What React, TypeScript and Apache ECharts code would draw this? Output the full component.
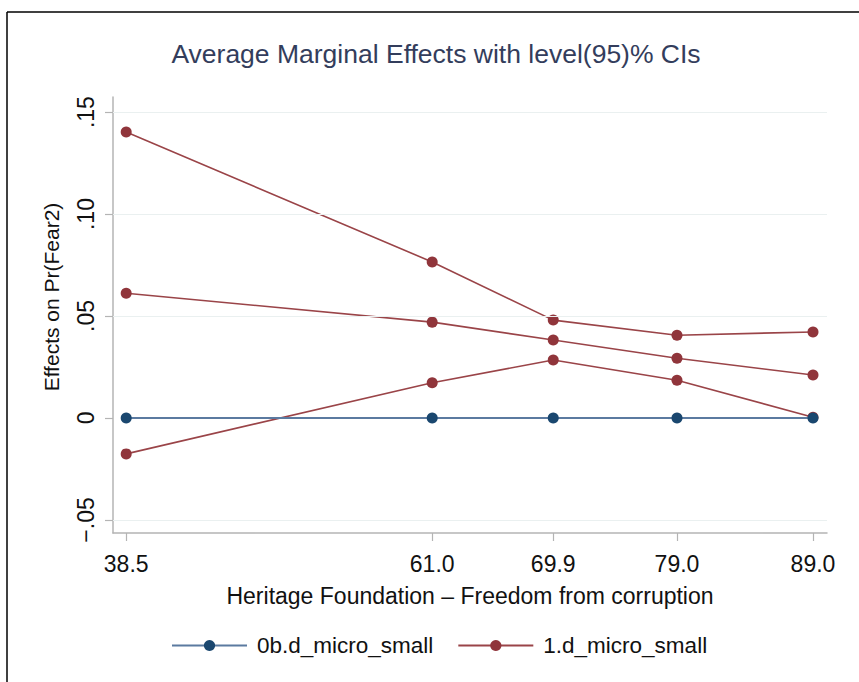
import React, { useEffect, useRef } from "react";
import * as echarts from "echarts";

const xValues = [38.5, 61.0, 69.9, 79.0, 89.0];
const baseSeries = [0, 0, 0, 0, 0];
const upperCI = [0.1402, 0.0765, 0.048, 0.0406, 0.0422];
const estimate = [0.0612, 0.047, 0.0382, 0.0293, 0.0211];
const lowerCI = [-0.0176, 0.0173, 0.0284, 0.0185, 0.0004];
const yTicks = [-0.05, 0, 0.05, 0.1, 0.15];
const yTickLabels = ["\u2212.05", "0", ".05", ".10", ".15"];
const seriesNames = ["0b.d_micro_small", "1.d_micro_small"];
const titleText = "Average Marginal Effects with level(95)% CIs";
const xTitle = "Heritage Foundation \u2013 Freedom from corruption";
const yTitle = "Effects on Pr(Fear2)";

const FONT = "'Liberation Sans', Arial, sans-serif";
const BLUE = "#1a476f";
const BLUE_LINE = "#5b7aa0";
const RED = "#90353b";
const RED_LINE = "#9a4448";
const AXIS = "#b4b4b4";

const pair = (vals: number[]) => xValues.map((x, i) => [x, vals[i]]);

export default function App() {
  const ref = useRef<HTMLDivElement>(null);
  useEffect(() => {
    if (!ref.current) return;
    const chart = echarts.init(ref.current, undefined, { renderer: "svg" });
    const redSeries = (data: number[]) => ({
      type: "line",
      name: seriesNames[1],
      data: pair(data),
      symbol: "circle",
      symbolSize: 11,
      z: 3,
      itemStyle: { color: RED },
      lineStyle: { color: RED_LINE, width: 1.6 },
    });
    chart.setOption({
      animation: false,
      backgroundColor: "#ffffff",
      textStyle: { fontFamily: FONT },
      grid: { left: 113, right: 32, top: 97, bottom: 149, containLabel: false },
      graphic: [
        {
          type: "line",
          shape: { x1: 7, y1: 12, x2: 859, y2: 12 },
          style: { stroke: "#000", lineWidth: 1.5 },
        },
        {
          type: "line",
          shape: { x1: 7, y1: 12, x2: 7, y2: 682 },
          style: { stroke: "#000", lineWidth: 1.5 },
        },
        {
          type: "text",
          x: 436,
          y: 54,
          style: {
            text: titleText,
            align: "center",
            verticalAlign: "middle",
            fontSize: 26.5,
            fontFamily: FONT,
            fill: "#333d5c",
          },
        },
        {
          type: "text",
          x: 51,
          y: 297,
          rotation: Math.PI / 2,
          style: {
            text: yTitle,
            align: "center",
            verticalAlign: "middle",
            fontSize: 21,
            fontFamily: FONT,
            fill: "#111",
          },
        },
      ],
      legend: {
        data: seriesNames,
        left: 166,
        top: 629,
        itemWidth: 75,
        itemHeight: 14,
        itemGap: 24,
        textStyle: { fontSize: 22.5, color: "#111", fontFamily: FONT, padding: [0, 0, 0, 5] },
      },
      xAxis: {
        type: "value",
        min: 37.53,
        max: 90.03,
        name: xTitle,
        nameLocation: "middle",
        nameGap: 51,
        nameTextStyle: { fontSize: 23, color: "#111", fontFamily: FONT },
        axisLine: { show: true, onZero: false, lineStyle: { color: AXIS, width: 1.5 } },
        axisTick: { show: true, customValues: xValues, length: 8, lineStyle: { color: AXIS, width: 1.2 } },
        axisLabel: {
          customValues: xValues,
          formatter: (v: number) => v.toFixed(1),
          fontSize: 23,
          color: "#111",
          margin: 19,
          fontFamily: FONT,
        },
        splitLine: { show: false },
      },
      yAxis: {
        type: "value",
        min: -0.0564,
        max: 0.1574,
        axisLine: { show: true, onZero: false, lineStyle: { color: AXIS, width: 1.5 } },
        axisTick: { show: true, customValues: yTicks, length: 8, lineStyle: { color: AXIS, width: 1.2 } },
        axisLabel: {
          customValues: yTicks,
          rotate: 90,
          formatter: (v: number) => {
            const i = yTicks.findIndex((t) => Math.abs(t - v) < 1e-9);
            return i >= 0 ? yTickLabels[i] : "";
          },
          fontSize: 23,
          color: "#111",
          margin: 16,
          fontFamily: FONT,
        },
        splitLine: { show: false },
      },
      series: [
        {
          type: "line",
          name: "grid",
          data: [],
          z: 1,
          silent: true,
          markLine: {
            silent: true,
            symbol: ["none", "none"],
            label: { show: false },
            lineStyle: { color: "#eaf0f0", width: 1.2, type: "solid" },
            data: yTicks.filter((t) => t !== 0).map((t) => ({ yAxis: t })),
          },
        },
        {
          type: "line",
          name: seriesNames[0],
          data: pair(baseSeries),
          symbol: "circle",
          symbolSize: 11,
          z: 4,
          itemStyle: { color: BLUE },
          lineStyle: { color: BLUE_LINE, width: 2 },
        },
        redSeries(upperCI),
        redSeries(estimate),
        redSeries(lowerCI),
      ],
    });
    return () => chart.dispose();
  }, []);
  return (
    <div
      ref={ref}
      style={{ position: "fixed", left: 0, top: 0, width: 859, height: 682, background: "#fff" }}
    />
  );
}
